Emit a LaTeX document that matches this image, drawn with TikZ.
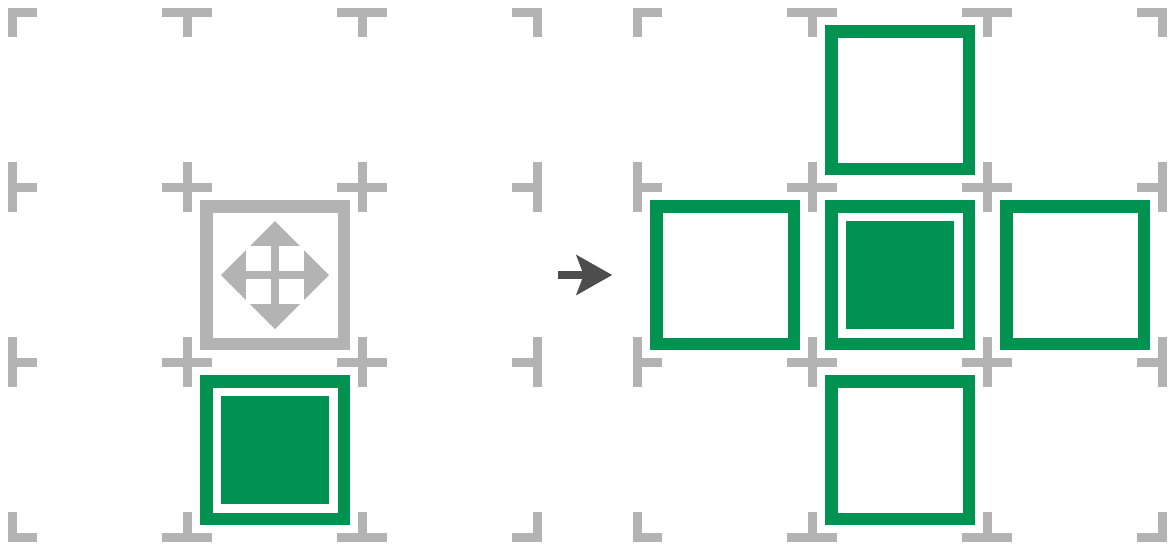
\documentclass[tikz,border=0pt]{standalone}
\usepackage{tikz}
\usetikzlibrary{arrows.meta}
\definecolor{tilegreen}{RGB}{0,146,80}
\definecolor{markgray}{RGB}{179,179,179}
\definecolor{arrowgray}{RGB}{77,77,77}
\begin{document}
\begin{tikzpicture}[x=0.75pt, y=-0.75pt, node distance=131.25pt]
    \tikzstyle{tile}=[draw=tilegreen,line width=9.375pt,fill=white,inner sep=0pt,outer sep=0pt,minimum size=103.125pt]
    \tikzstyle{core}=[fill=tilegreen,inner sep=0pt,outer sep=0pt,minimum size=81.4pt]
    \tikzstyle{cropline}=[draw=markgray,line width=6.5pt]
    \useasboundingbox (0,0) rectangle (1175,550);
    % crop marks
    \foreach \gx/\xa/\xb in {12.4/-4.35/25, 187.4/-25/25, 362.4/-25/25, 537.4/-25/4.35, 637.4/-4.35/25, 812.4/-25/25, 987.4/-25/25, 1162.4/-25/4.35}
      \foreach \gy/\ya/\yb in {12.4/-4.35/25, 187.4/-25/25, 362.4/-25/25, 537.4/-25/4.35} {
        \draw[cropline] (\gx+\xa,\gy) -- (\gx+\xb,\gy);
        \draw[cropline] (\gx,\gy+\ya) -- (\gx,\gy+\yb);
      }
    % left grid
    \node[tile, draw=markgray] (moved) at (275,275) {};
    \node[tile]    (old)[below of=moved]	{};
    \node[core]    (oldcore) at (old)		{};
    \begin{scope}[shift={(moved)}]
      \fill[markgray] (0,-54) -- (54,0) -- (0,54) -- (-54,0) -- cycle;
      \foreach \sx/\sy in {-1/-1, 1/-1, -1/1, 1/1}
        \fill[white] (\sx*4.4,\sy*4.4) rectangle (\sx*29,\sy*29);
    \end{scope}
    % right grid
    \node[tile]    (center) at (900,275)	{};
    \node[core]    (centercore) at (center)	{};
    \node[tile]    (top)[above of=center]	{};
    \node[tile]    (left)[left of=center]	{};
    \node[tile]    (right)[right of=center]	{};
    \node[tile]    (bottom)[below of=center]	{};
    % arrow between the grids
    \coordinate (from) at (558.3,275);
    \coordinate (to) at (612.3,275);
    \draw[arrowgray, line width=6.2pt, -{Stealth[length=26.8pt,width=29.6pt,inset=5.4pt]}] (from) -- (to);
\end{tikzpicture}
\end{document}
